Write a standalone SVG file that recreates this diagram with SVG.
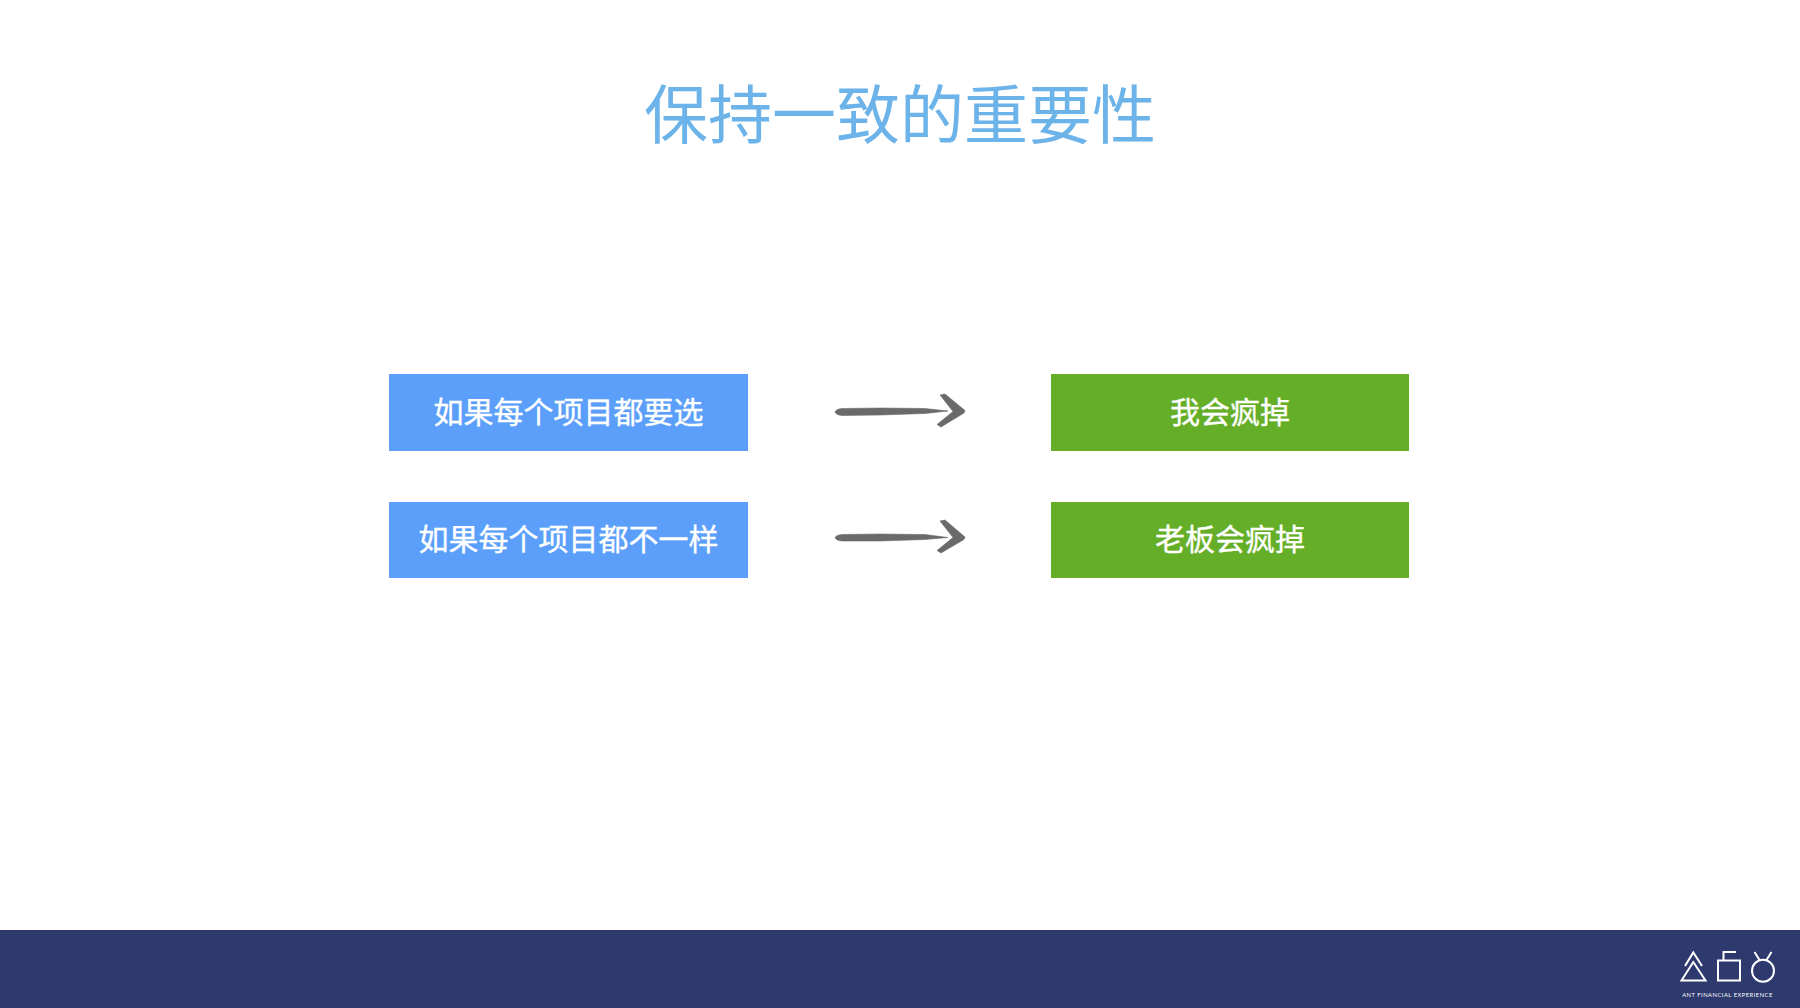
<svg xmlns="http://www.w3.org/2000/svg" width="1800" height="1008" viewBox="0 0 1800 1008">
<style>
text{font-family:"Noto Sans CJK SC","Liberation Sans",sans-serif;text-anchor:middle}
.lbl{font-size:30px;fill:#fff;stroke:#fff;stroke-width:.35}
.blue{fill:#5b9ffb}
.green{fill:#65ae27}
.arrow{fill:#6a6a6a;stroke:#6a6a6a;stroke-width:.6;stroke-linejoin:round}
.logo{fill:none;stroke:#fff;stroke-width:2}
</style>
<rect width="1800" height="1008" fill="#fff"/>
<g id="title"><text x="900" y="138" font-size="64" fill="#6bb3e8">保持一致的重要性</text></g>
<g id="node-a1"><rect class="blue" x="389" y="374" width="359" height="77"/><text class="lbl" x="568.5" y="423">如果每个项目都要选</text></g>
<g id="node-a2"><rect class="blue" x="389" y="502" width="359" height="76"/><text class="lbl" x="568.5" y="550">如果每个项目都不一样</text></g>
<g id="node-b1"><rect class="green" x="1051" y="374" width="358" height="77"/><text class="lbl" x="1230" y="423">我会疯掉</text></g>
<g id="node-b2"><rect class="green" x="1051" y="502" width="358" height="76"/><text class="lbl" x="1230" y="550">老板会疯掉</text></g>
<g id="connectors">
<g id="arrow1" class="arrow"><path d="M835 412 Q836 409 842 408.500 L880 408 L925 408.500 L948 411 L925 413.500 L880 415 L842 415.500 Q836 415 835 412Z"/><path d="M940 395 L945 394 L965 410.500 L964 413 L941 427 L937 424.500 L953 411.500 Z"/></g>
<g id="arrow2" class="arrow"><path d="M835 537.500 Q836 535 842 534.500 L880 534 L925 534.500 L948 537.500 L925 539.500 L880 541 L842 541 Q836 540.500 835 537.500Z"/><path d="M940 521 L945 520 L965 537 L964 539.500 L941 553 L937 550.500 L953 537.500 Z"/></g>
</g>
<g id="footer"><rect x="0" y="930" width="1800" height="78" fill="#2e3a6d"/></g>
<g id="logo">
<path class="logo" d="M1681.500 980.500 L1693.300 962 L1705.500 980.500 Z"/>
<path class="logo" d="M1685 966 L1693.300 952.500 L1702 966"/>
<path class="logo" d="M1718 960.500 H1740 V980.500 H1718 Z M1723.500 960.500 V952 H1736"/>
<circle class="logo" cx="1763" cy="970.700" r="11"/>
<path class="logo" d="M1754.500 952 L1759.500 960 M1771.500 952 L1766.500 960"/>
<text x="1727.500" y="996.500" font-size="5.800" letter-spacing=".5" fill="#fff" style="font-family:'Lato','Liberation Sans',sans-serif">ANT FINANCIAL EXPERIENCE</text>
</g>
</svg>
